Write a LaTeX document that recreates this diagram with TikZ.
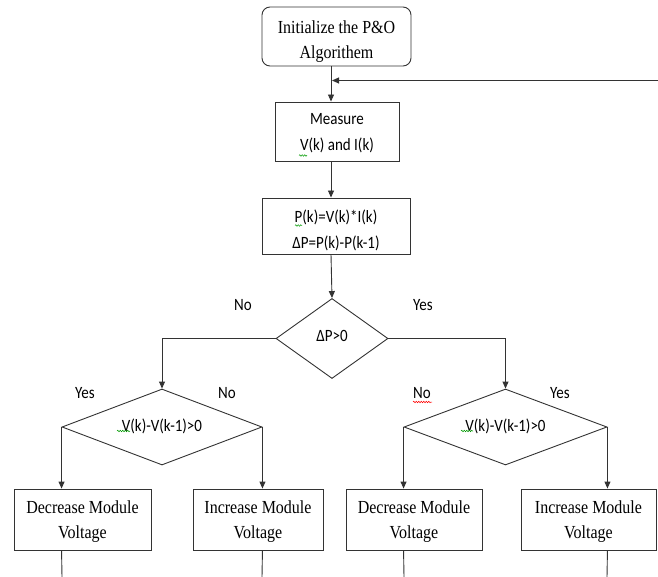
\documentclass[tikz,border=0pt]{standalone}
\usepackage{fontspec}
\setmainfont{Liberation Serif}
\newfontfamily\calfont{Carlito}
\usetikzlibrary{shapes.geometric,arrows.meta,decorations.pathmorphing}
\newcommand\tallt[1]{\scalebox{1}[1.15]{#1}}
\tikzset{
  ln/.style={draw=black!80, line width=0.9pt},
  arr/.style={ln, -{Triangle[length=7pt,width=6pt]}},
  tbox/.style={draw=black!80, line width=0.9pt, rectangle, inner sep=0pt, align=center,
     font=\fontsize{16}{25}\selectfont},
  ttext/.style={inner sep=0pt, align=center, font=\fontsize{16}{25}\selectfont},
  cbox/.style={draw=black!80, line width=0.9pt, rectangle, inner sep=0pt, align=center,
     font=\calfont\fontsize{15}{26}\selectfont},
  ctext/.style={inner sep=0pt, align=center, font=\calfont\fontsize{15}{26}\selectfont},
  dia/.style={draw=black!80, line width=0.9pt, diamond, inner sep=0pt, aspect=1.4,
     font=\calfont\fontsize{15}{18}\selectfont},
  lab/.style={font=\calfont\fontsize{15}{18}\selectfont, inner sep=0pt},
  squig/.style={draw=#1, line width=0.5pt, decorate,
     decoration={snake, segment length=2.5pt, amplitude=0.8pt}}
}
\begin{document}
\begin{tikzpicture}[x=1pt,y=-1pt]
\useasboundingbox (0,0) rectangle (658,577);
\coordinate (col) at (331,0);
\node[tbox, rounded corners=8pt, minimum width=149pt, minimum height=59pt] (init) at (336.5,36.5) {};
\node[ttext] (initt) at (336.5,41.5) {\tallt{Initialize the P\&O}\\\tallt{Algorithem}};
\node[cbox, minimum width=124pt, minimum height=59pt] (meas) at (337,131.5) {};
\node[ctext] (meast) at (337,133.5) {\tallt{Measure}\\\tallt{V(k) and I(k)}};
\node[cbox, minimum width=148pt, minimum height=56pt] (calc) at (336,226) {};
\node[ctext] (calct) at (336,230.5) {\tallt{P(k)=V(k)*I(k)}\\\tallt{ΔP=P(k)-P(k-1)}};
\node[dia, minimum width=112pt, minimum height=80pt] (d0) at (332,338.5)
  {\raisebox{5pt}{\tallt{ΔP>0}}};
\node[dia, minimum width=200pt, minimum height=76pt] (dl) at (162,427)
  {\raisebox{4pt}{\tallt{V(k)-V(k-1)>0}}};
\node[dia, minimum width=203pt, minimum height=76pt] (dr) at (505.5,427)
  {\raisebox{4pt}{\tallt{V(k)-V(k-1)>0}}};
\node[tbox, minimum width=137pt, minimum height=61pt] (b1) at (82.5,519.5) {};
\node[ttext] (b1t) at (82.5,521.5) {\tallt{Decrease Module}\\\tallt{Voltage}};
\node[tbox, minimum width=130pt, minimum height=61pt] (b2) at (258,519.5) {};
\node[ttext] (b2t) at (258,521.5) {\tallt{Increase Module}\\\tallt{Voltage}};
\node[tbox, minimum width=136pt, minimum height=61pt] (b3) at (414,519.5) {};
\node[ttext] (b3t) at (414,521.5) {\tallt{Decrease Module}\\\tallt{Voltage}};
\node[tbox, minimum width=135pt, minimum height=61pt] (b4) at (588.5,519.5) {};
\node[ttext] (b4t) at (588.5,521.5) {\tallt{Increase Module}\\\tallt{Voltage}};
\node[lab] (l1) at (243,305) {\tallt{No}};
\node[lab] (l2) at (423,305) {\tallt{Yes}};
\node[lab] (l3) at (85,393) {\tallt{Yes}};
\node[lab] (l4) at (227,393) {\tallt{No}};
\node[lab] (l5) at (422,393) {\tallt{No}};
\node[lab] (l6) at (560,393) {\tallt{Yes}};
\coordinate (fb) at (658,80.5);
\coordinate (fbm) at (331,80.5);
\draw[ln] (init.south -| col) -- (fbm);
\draw[arr] (fbm) -- (meas.north -| col);
\draw[arr] (fb) -- ([xshift=1pt]fbm);
\draw[arr] (meas.south -| col) -- (calc.north -| col);
\draw[arr] (calc.south -| col) -- (d0.north);
\draw[arr] (d0.west) -| (dl.north);
\draw[arr] (d0.east) -| (dr.north);
\draw[arr] (dl.west) -- (dl.west |- b1.north);
\draw[arr] (dl.east) -- (dl.east |- b2.north);
\draw[arr] (dr.west) -- (dr.west |- b3.north);
\draw[arr] (dr.east) -- (dr.east |- b4.north);
\coordinate (e1) at (62,577);
\coordinate (e2) at (262,577);
\coordinate (e3) at (404,577);
\coordinate (e4) at (607,577);
\draw[ln] (dl.west |- b1.south) -- (e1);
\draw[ln] (dl.east |- b2.south) -- (e2);
\draw[ln] (dr.west |- b3.south) -- (e3);
\draw[ln] (dr.east |- b4.south) -- (e4);
\draw[squig=green!60!black] (299,155.5) -- (307,155.5);
\draw[squig=green!60!black] (295,225.5) -- (302,225.5);
\draw[squig=green!60!black] (117,431) -- (130,431);
\draw[squig=green!60!black] (461,431) -- (473,431);
\draw[squig=red] (413,402) -- (432,402);
\end{tikzpicture}
\end{document}
